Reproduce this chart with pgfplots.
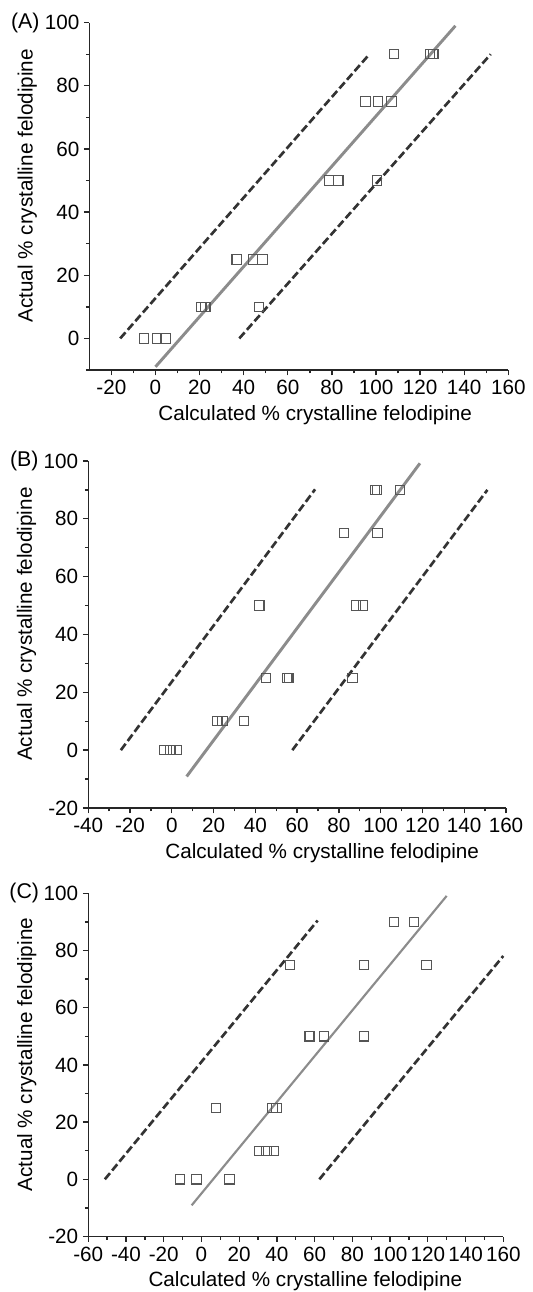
\documentclass[border=0pt]{standalone}
\usepackage{pgfplots}
\pgfplotsset{compat=1.18}
\usepackage{fontspec}
\setmainfont{Liberation Sans}
\definecolor{markgray}{HTML}{555555}
\definecolor{fitgray}{HTML}{8C8C8C}
\definecolor{dashgray}{HTML}{333333}
\pgfplotsset{
  panel/.style={
    scale only axis,
    anchor=south west,
    axis x line=bottom, axis y line=left,
    axis line style={-, line width=1.1pt, black!85},
    tick style={line width=1pt, black!85},
    tick align=outside,
    major tick length=4pt, minor tick length=2.5pt,
    minor tick num=1,
    clip=false,
    font=\fontsize{15.5}{17}\selectfont,
    /pgf/number format/assume math mode=true,
    ytick={-20,0,20,40,60,80,100},
    ymax=100,
    xmax=160,
    xtick distance=20,
    xlabel={Calculated \% crystalline felodipine},
    ylabel={Actual \% crystalline felodipine},
    every axis y label/.style={at={(axis description cs:-0.148,0.53)}, rotate=90, anchor=center},
  },
  pts/.style={only marks, mark=square, mark size=3.5pt, mark options={draw=markgray, line width=0.8pt, fill=none}},
  fit/.style={no marks, color=fitgray, line width=2.2pt},
  band/.style={no marks, color=dashgray, line width=2pt, dash pattern=on 6pt off 2.6pt},
}
\begin{document}
\begin{tikzpicture}
\useasboundingbox (0,0) rectangle (399pt,969pt);
% Panel A
\begin{axis}[panel, at={(67pt,691.5pt)}, width=314.25pt, height=260.5pt,
  xmin=-30, ymin=-10, xtick={-20,0,...,160},
  every axis x label/.style={at={(axis description cs:0.539,-0.13)}, anchor=center}]
\addplot[band] coordinates {(-16,0) (97,90)};
\addplot[band] coordinates {(38,0) (152,90)};
\addplot[fit] coordinates {(0,-9) (136,99)};
\addplot[pts] coordinates {(-5.3,0) (0.8,0) (4.5,0) (20.8,10) (22.6,10) (46.9,10) (36.8,25) (44.1,25) (48.5,25) (78.6,50) (82.9,50) (100.5,50) (95.2,75) (100.8,75) (107,75) (108.1,90) (124.5,90) (126,90)};
\node[anchor=center, font=\fontsize{16}{18}\selectfont] at (axis description cs:0,1) [xshift=-48pt] {(A)};
\end{axis}
% Panel B
\begin{axis}[panel, at={(66.2pt,363pt)}, width=313.3pt, height=260.25pt,
  xmin=-40, ymin=-20, xtick={-40,-20,...,160},
  every axis x label/.style={at={(axis description cs:0.56,-0.13)}, anchor=center}]
\addplot[band] coordinates {(-24.4,0) (68.6,90.2)};
\addplot[band] coordinates {(57.7,0) (151.1,90)};
\addplot[fit] coordinates {(7.1,-9.1) (118.8,99.2)};
\addplot[pts] coordinates {(-3.6,0) (-0.7,0) (2.3,0) (21.8,10) (24.3,10) (34.7,10) (45.1,25) (55.3,25) (56,25) (86.5,25) (41.9,50) (88.2,50) (91.4,50) (82.4,75) (98.5,75) (97.3,90) (98.1,90) (109.2,90)};
\node[anchor=center, font=\fontsize{16}{18}\selectfont] at (axis description cs:0,1) [xshift=-48pt] {(B)};
\end{axis}
% Panel C
\begin{axis}[panel, at={(66.2pt,41.6pt)}, width=311.25pt, height=257.4pt,
  xmin=-60, ymin=-20, xtick={-60,-40,...,160},
  every axis x label/.style={at={(axis description cs:0.523,-0.13)}, anchor=center}]
\addplot[band] coordinates {(-51.2,0) (61.6,90.5)};
\addplot[band] coordinates {(62.5,0) (160,78.1)};
\addplot[fit, line width=1.6pt] coordinates {(-5.2,-9.1) (130,99.1)};
\addplot[pts] coordinates {(-11.4,0) (-2.6,0) (14.8,0) (30.6,10) (34.5,10) (38.4,10) (7.7,25) (37.7,25) (39.8,25) (57.2,50) (57.5,50) (65.1,50) (86.1,50) (46.9,75) (86.1,75) (119.3,75) (102.2,90) (112.6,90)};
\node[anchor=center, font=\fontsize{16}{18}\selectfont] at (axis description cs:0,1) [xshift=-48pt] {(C)};
\end{axis}
\end{tikzpicture}
\end{document}
